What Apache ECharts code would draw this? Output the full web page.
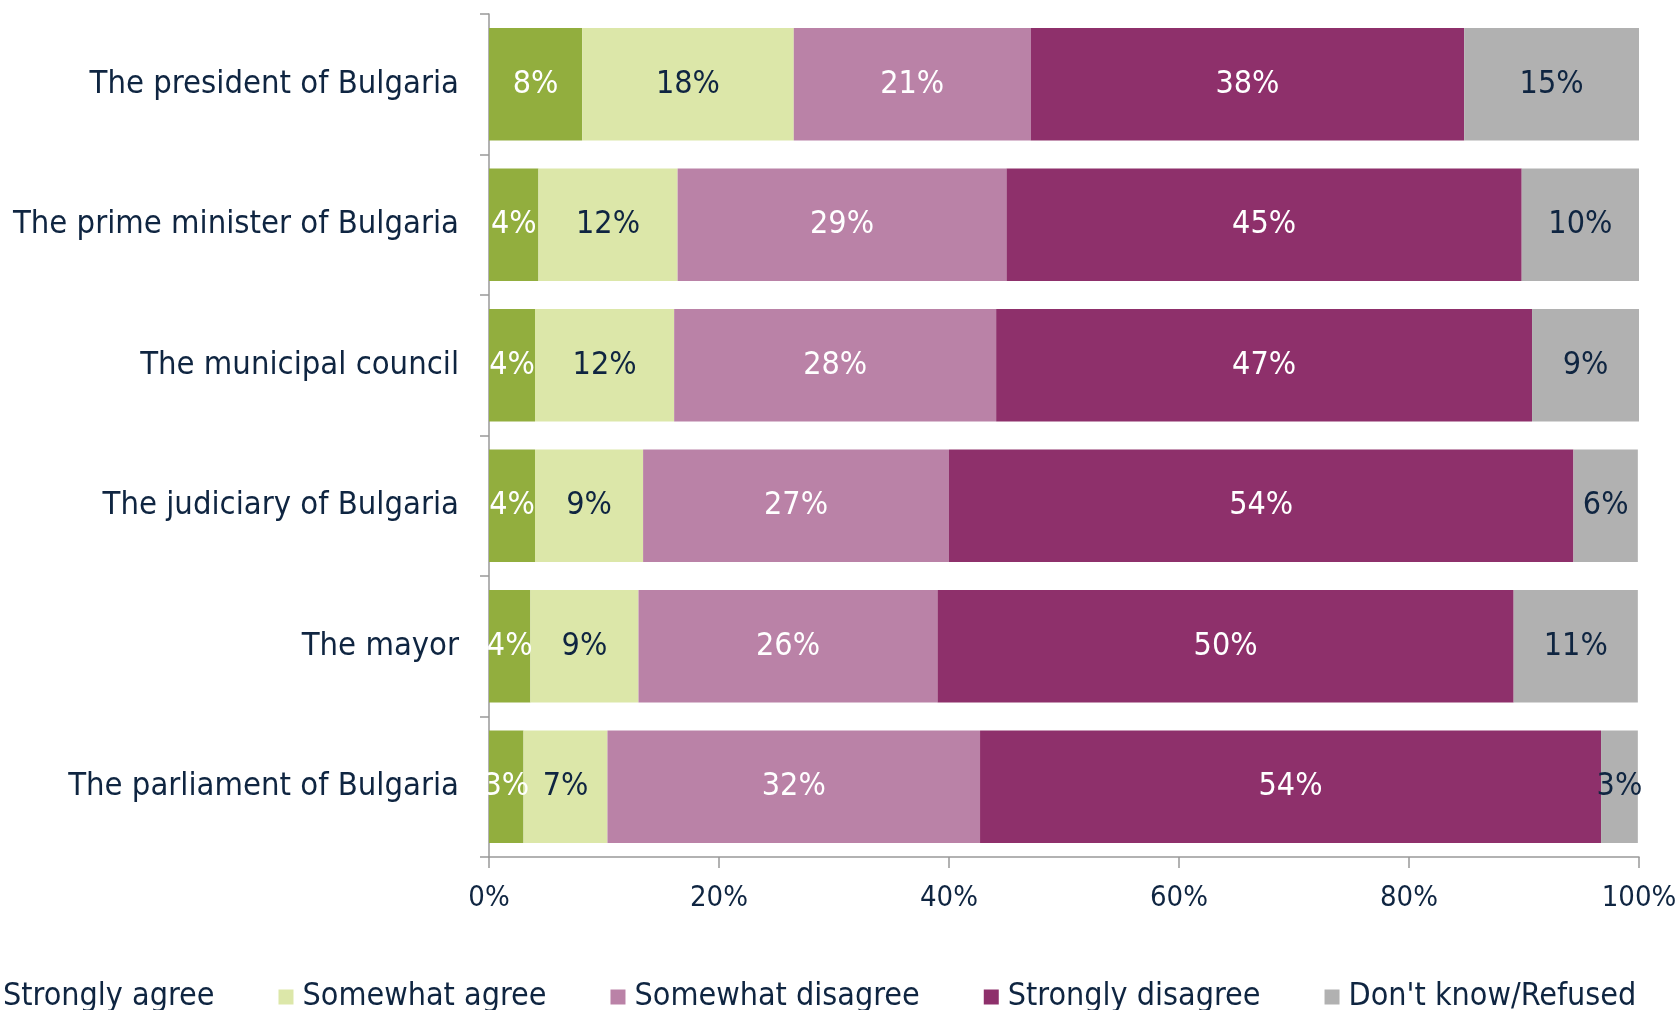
<!DOCTYPE html>
<html><head><meta charset="utf-8">
<script src="https://cdn.jsdelivr.net/npm/echarts@6/dist/echarts.min.js"></script>
<style>html,body{margin:0;padding:0;background:#fff}#c{width:1677px;height:1010px}</style>
</head><body><div id="c"></div>
<script>
var categories = ["The president of Bulgaria","The prime minister of Bulgaria","The municipal council","The judiciary of Bulgaria","The mayor","The parliament of Bulgaria"];
var seriesNames = ["Strongly agree","Somewhat agree","Somewhat disagree","Strongly disagree","Don't know/Refused"];
var stronglyAgree    = [8.1, 4.3, 4.0, 4.0, 3.6, 3.0];
var somewhatAgree    = [18.4, 12.1, 12.1, 9.4, 9.4, 7.3];
var somewhatDisagree = [20.6, 28.6, 28.0, 26.6, 26.0, 32.4];
var stronglyDisagree = [37.7, 44.8, 46.6, 54.3, 50.1, 54.0];
var dontKnow         = [15.2, 10.2, 9.3, 5.6, 10.8, 3.2];
var xTicks = [0, 20, 40, 60, 80, 100];

var colors = ["#92AE3E","#DCE7A9","#BA82A7","#8E306B","#B1B1B1"];
var labelColors = ["#ffffff","#0F2541","#ffffff","#ffffff","#0F2541"];
var navy = "#0F2541";
var FONT = "DejaVu Sans Condensed";
var data = [stronglyAgree, somewhatAgree, somewhatDisagree, stronglyDisagree, dontKnow];

var series = data.map(function(d, i){
  return {
    name: seriesNames[i], type: 'bar', stack: 'all', data: d,
    barCategoryGap: '20%',
    itemStyle: {color: colors[i]},
    label: {show: true, position: 'inside', color: labelColors[i], fontFamily: FONT, fontSize: 32,
      padding: [6, 0, 0, 0],
      formatter: function(p){ return Math.round(p.value) + '%'; }},
    emphasis: {disabled: true}
  };
});

var chart = echarts.init(document.getElementById('c'), null, {renderer: 'canvas'});
chart.setOption({
  animation: false,
  textStyle: {fontFamily: FONT},
  grid: {left: 489, right: 38, top: 14, bottom: 153, containLabel: false, outerBoundsMode: 'none'},
  legend: {
    data: seriesNames, bottom: -8, left: -26, itemGap: 64, itemWidth: 15, itemHeight: 15,
    icon: 'rect', textStyle: {fontFamily: FONT, fontSize: 32, color: navy, padding: [0, 0, 0, 4]}
  },
  xAxis: {
    type: 'value', min: 0, max: 100, interval: 20,
    axisLine: {show: true, lineStyle: {color: '#999999', width: 1.5}},
    axisTick: {show: true, length: 11, lineStyle: {color: '#999999', width: 1.5}},
    splitLine: {show: false},
    axisLabel: {color: navy, fontFamily: FONT, fontSize: 29, margin: 27,
      formatter: function(v){ return xTicks.indexOf(v) >= 0 ? v + '%' : ''; }}
  },
  yAxis: {
    type: 'category', data: categories, inverse: true,
    axisLine: {show: true, lineStyle: {color: '#999999', width: 1.5}},
    axisTick: {show: true, length: 9, lineStyle: {color: '#999999', width: 1.5}},
    axisLabel: {color: navy, fontFamily: FONT, fontSize: 32.5, margin: 30, padding: [6, 0, 0, 0]}
  },
  series: series
});
</script></body></html>
